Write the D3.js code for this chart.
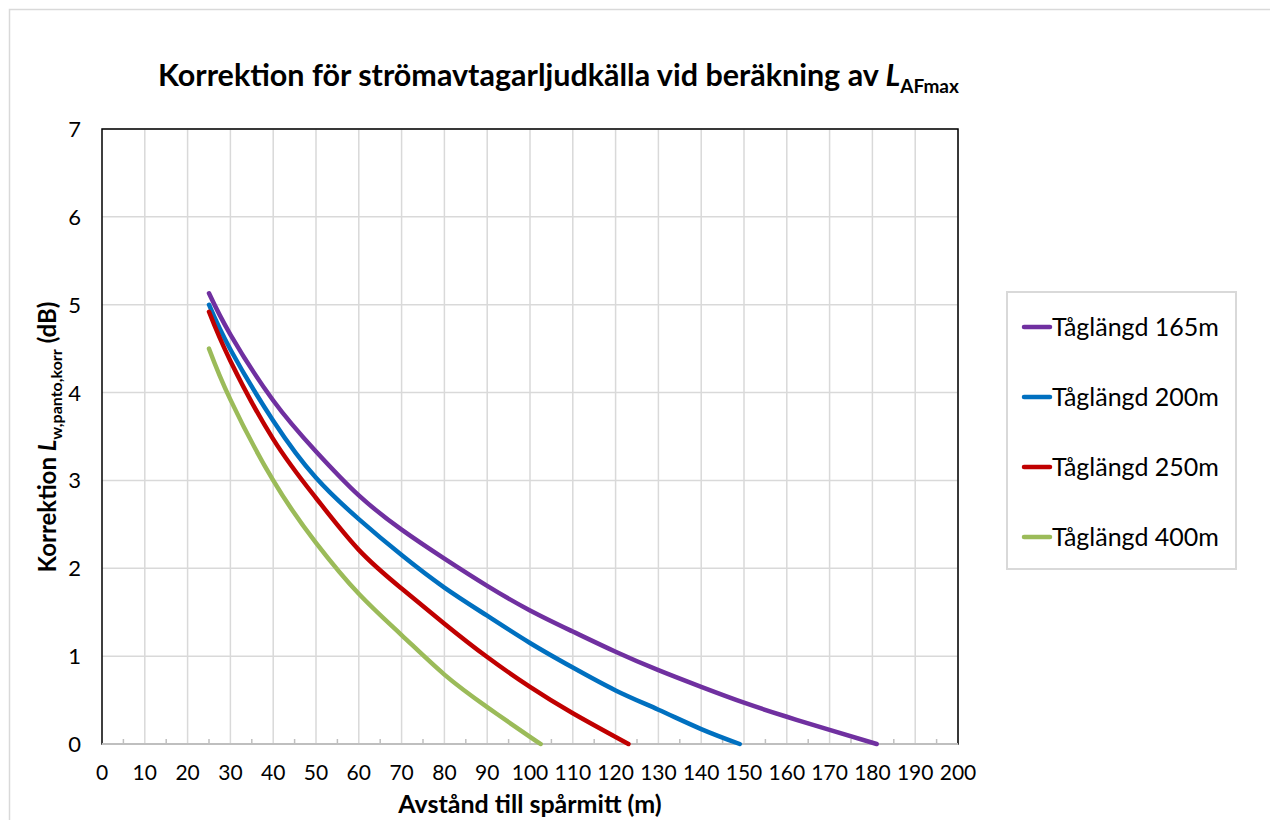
<!DOCTYPE html>
<html>
<head>
<title>Korrektion</title>
<style>
  body { margin: 0; background: #fff; }
  text { font-family: Lato, "Open Sans", sans-serif; fill: #000; }
</style>
</head>
<body>
<script src="https://cdnjs.cloudflare.com/ajax/libs/d3/7.8.5/d3.min.js"></script>
<script>
var names = ["Tåglängd 165m", "Tåglängd 200m", "Tåglängd 250m", "Tåglängd 400m"];
var colors = ["#7030a0", "#0070c0", "#c00000", "#9bbb59"];

var x165 = [25, 30, 40, 50, 60, 70, 80, 90, 100, 110, 120, 130, 140, 150, 160, 170, 181];
var y165 = [5.13, 4.66, 3.91, 3.33, 2.83, 2.44, 2.11, 1.80, 1.52, 1.28, 1.05, 0.84, 0.65, 0.47, 0.31, 0.16, 0];
var x200 = [25, 30, 40, 50, 60, 70, 80, 90, 100, 110, 120, 130, 140, 149];
var y200 = [5.00, 4.49, 3.68, 3.03, 2.56, 2.15, 1.78, 1.46, 1.15, 0.87, 0.61, 0.39, 0.17, 0];
var x250 = [25, 30, 40, 50, 60, 70, 80, 90, 100, 110, 120, 123];
var y250 = [4.92, 4.36, 3.47, 2.80, 2.21, 1.77, 1.37, 0.99, 0.65, 0.35, 0.08, 0];
var x400 = [25, 30, 40, 50, 60, 70, 80, 90, 100, 102.5];
var y400 = [4.50, 3.92, 3.00, 2.29, 1.71, 1.24, 0.79, 0.42, 0.08, 0];

var xTicks = d3.range(0, 201, 10);
var yTicks = [0, 1, 2, 3, 4, 5, 6, 7];

var seriesX = [x165, x200, x250, x400];
var seriesY = [y165, y200, y250, y400];

var width = 1270, height = 820;
var pLeft = 102, pRight = 958, pTop = 129, pBottom = 744;

var svg = d3.select("body").append("svg")
  .attr("width", width)
  .attr("height", height);

// outer chart frame
svg.append("rect")
  .attr("x", 9.5).attr("y", 9.5)
  .attr("width", 1400).attr("height", 1000)
  .attr("fill", "none").attr("stroke", "#d9d9d9").attr("stroke-width", 1.5);

var x = d3.scaleLinear().domain([0, 200]).range([pLeft, pRight]);
var y = d3.scaleLinear().domain([0, 7]).range([pBottom, pTop]);

// grid
svg.append("g").selectAll("line").data(xTicks.slice(1))
  .enter().append("line")
  .attr("x1", d => x(d)).attr("x2", d => x(d))
  .attr("y1", pTop).attr("y2", pBottom)
  .attr("stroke", "#d9d9d9").attr("stroke-width", 1.5);
svg.append("g").selectAll("line").data(yTicks.slice(1))
  .enter().append("line")
  .attr("x1", pLeft).attr("x2", pRight)
  .attr("y1", d => y(d)).attr("y2", d => y(d))
  .attr("stroke", "#d9d9d9").attr("stroke-width", 1.5);

// plot frame
svg.append("rect")
  .attr("x", pLeft).attr("y", pTop)
  .attr("width", pRight - pLeft).attr("height", pBottom - pTop)
  .attr("fill", "none").attr("stroke", "#000").attr("stroke-width", 1.5);

// x axis line + minor ticks
svg.append("line")
  .attr("x1", pLeft).attr("x2", pRight)
  .attr("y1", pBottom).attr("y2", pBottom)
  .attr("stroke", "#bfbfbf").attr("stroke-width", 2);
svg.append("g").selectAll("line").data(d3.range(5, 200, 10))
  .enter().append("line")
  .attr("x1", d => x(d)).attr("x2", d => x(d))
  .attr("y1", pBottom - 5).attr("y2", pBottom)
  .attr("stroke", "#bfbfbf").attr("stroke-width", 1.5);

// tick labels
svg.append("g").selectAll("text").data(xTicks)
  .enter().append("text")
  .attr("x", d => x(d)).attr("y", 780)
  .attr("text-anchor", "middle")
  .style("font-size", "21px")
  .text(d => d);
svg.append("g").selectAll("text").data(yTicks)
  .enter().append("text")
  .attr("x", 81).attr("y", d => y(d) + 8)
  .attr("text-anchor", "end")
  .style("font-size", "22px")
  .text(d => d);

// lines (smoothed like the spreadsheet)
var line = d3.line()
  .x(d => x(d[0]))
  .y(d => y(d[1]))
  .curve(d3.curveNatural);

seriesX.forEach(function(xs, i) {
  svg.append("path")
    .datum(xs.map((v, j) => [v, seriesY[i][j]]))
    .attr("d", line)
    .attr("fill", "none")
    .attr("stroke", colors[i])
    .attr("stroke-width", 4.5)
    .attr("stroke-linecap", "round");
});

// title
var title = svg.append("text")
  .attr("x", 158).attr("y", 86)
  .style("font-size", "30.5px").style("font-weight", "bold");
title.append("tspan").text("Korrektion för strömavtagarljudkälla vid beräkning av ");
title.append("tspan").style("font-style", "italic").text("L");
title.append("tspan").attr("dy", 7).style("font-size", "19px").text("AFmax");

// axis titles
svg.append("text")
  .attr("x", x(100)).attr("y", 813)
  .attr("text-anchor", "middle")
  .style("font-size", "25px").style("font-weight", "bold")
  .text("Avstånd till spårmitt (m)");

var yl = svg.append("text")
  .attr("transform", "translate(56,437) rotate(-90)")
  .attr("text-anchor", "middle")
  .style("font-size", "24px").style("font-weight", "bold");
yl.append("tspan").text("Korrektion ");
yl.append("tspan").style("font-style", "italic").text("L");
yl.append("tspan").attr("dy", 6).style("font-size", "16px").text("w,panto,korr");
yl.append("tspan").attr("dy", -6).text(" (dB)");

// legend
svg.append("rect")
  .attr("x", 1007).attr("y", 292)
  .attr("width", 229).attr("height", 277)
  .attr("fill", "#fff").attr("stroke", "#d9d9d9").attr("stroke-width", 2);

var lg = svg.append("g").selectAll("g").data(names)
  .enter().append("g")
  .attr("transform", (d, i) => "translate(1022," + (327 + i * 70) + ")");
lg.append("line")
  .attr("x1", 2).attr("x2", 28)
  .attr("stroke", (d, i) => colors[i])
  .attr("stroke-width", 4.5)
  .attr("stroke-linecap", "round");
lg.append("text")
  .attr("x", 30).attr("y", 9)
  .style("font-size", "25px")
  .text(d => d);
</script>
</body>
</html>
